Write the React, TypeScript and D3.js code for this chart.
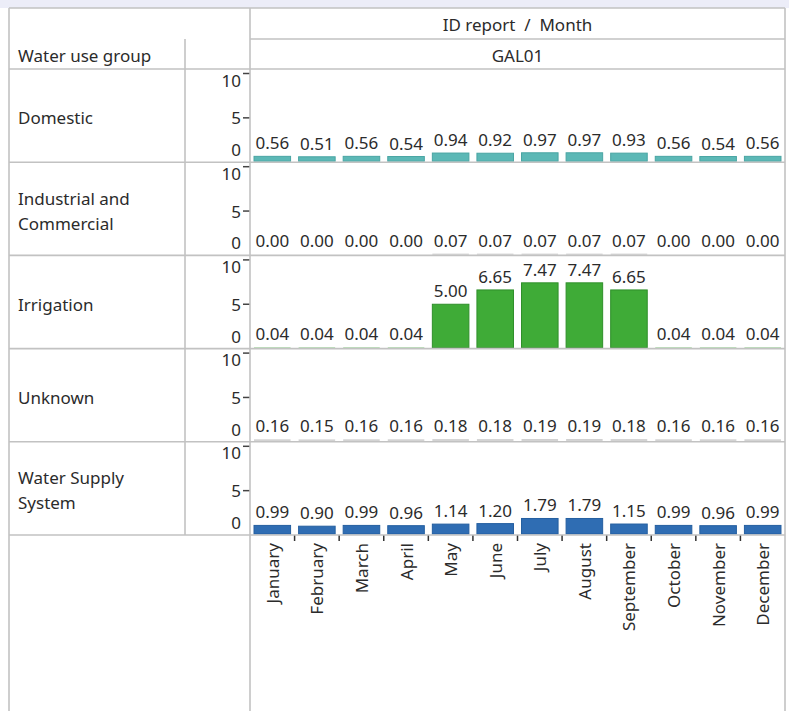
import React from "react";
import * as d3 from "d3";

const months = ["January","February","March","April","May","June","July","August","September","October","November","December"];
const groups = ["Domestic","Industrial and Commercial","Irrigation","Unknown","Water Supply System"];
const groupLabelLines = [["Domestic"],["Industrial and","Commercial"],["Irrigation"],["Unknown"],["Water Supply","System"]];
const domestic = [0.56,0.51,0.56,0.54,0.94,0.92,0.97,0.97,0.93,0.56,0.54,0.56];
const industrial = [0.00,0.00,0.00,0.00,0.07,0.07,0.07,0.07,0.07,0.00,0.00,0.00];
const irrigation = [0.04,0.04,0.04,0.04,5.00,6.65,7.47,7.47,6.65,0.04,0.04,0.04];
const unknown = [0.16,0.15,0.16,0.16,0.18,0.18,0.19,0.19,0.18,0.16,0.16,0.16];
const waterSupply = [0.99,0.90,0.99,0.96,1.14,1.20,1.79,1.79,1.15,0.99,0.96,0.99];
const seriesValues = [domestic, industrial, irrigation, unknown, waterSupply];
const yTicks = [0, 5, 10];
const headerTop = "ID report\u00a0\u00a0/\u00a0\u00a0Month";
const headerSub = "GAL01";
const columnTitle = "Water use group";

const fills = ["#5cb8b6", "#a9a9a9", "#3fab37", "#c9c9c9", "#2f6db3"];
const strokes = ["#4aa5a3", "#999", "#2f8f2a", "#bbb", "#255fa0"];

const W = 789, H = 711;
const L = 9, R = 785, T = 8;
const colA = 185, plotL = 250;
const rowsTop = 69, rowsBottom = 535;
const lineC = "#c2c2c2";
const textC = "#2b2b2b";
const font = "'Noto Sans', 'Open Sans', sans-serif";
const FS = 17;

export default function App() {
  const x = d3.scaleBand<string>().domain(months).range([plotL, R]).paddingInner(0.18).paddingOuter(0.09);
  const rowScale = d3.scaleBand<string>().domain(groups).range([rowsTop, rowsBottom]);
  const step = x.step();

  return (
    <svg width={W} height={H} style={{ position: "absolute", left: 0, top: 0, background: "#fff" }} fontFamily={font}>
      <rect x={0} y={0} width={W} height={H} fill="#fff" />
      <rect x={0} y={0} width={W} height={T} fill="#ecedf8" />
      {/* header */}
      <text x={(plotL + R) / 2} y={24} textAnchor="middle" dominantBaseline="central" fontSize={FS} fill={textC}>{headerTop}</text>
      <text x={(plotL + R) / 2} y={55} textAnchor="middle" dominantBaseline="central" fontSize={FS} fill={textC}>{headerSub}</text>
      <text x={18} y={55} dominantBaseline="central" fontSize={FS} fill={textC}>{columnTitle}</text>

      {groups.map((g, gi) => {
        const top = rowScale(g)!;
        const bottom = top + rowScale.bandwidth();
        const y = d3.scaleLinear().domain([0, 10]).range([bottom - 1, top + 5.5]);
        const lines = groupLabelLines[gi];
        const cy = (top + bottom) / 2 + 2;
        const vals = seriesValues[gi];
        return (
          <g key={g}>
            {lines.map((ln, li) => (
              <text key={li} x={18} y={cy + (li - (lines.length - 1) / 2) * 25} dominantBaseline="central" fontSize={FS} fill={textC}>{ln}</text>
            ))}
            {yTicks.map((t) => {
              const ty = y(t);
              const off = t === 10 ? 5.5 : t === 0 ? -11.5 : 0;
              return (
                <g key={t}>
                  {t !== 0 && (
                    <line x1={plotL - 7} x2={plotL} y1={t === 10 ? ty - 1 : ty} y2={t === 10 ? ty - 1 : ty} stroke="#444" strokeWidth={1.5} />
                  )}
                  <text x={plotL - 9} y={ty + off} textAnchor="end" dominantBaseline="central" fontSize={FS} fill={textC}>{t}</text>
                </g>
              );
            })}
            {months.map((m, i) => {
              const v = vals[i];
              const bx = x(m)!;
              const by = y(v);
              const h = y(0) - by;
              return (
                <g key={m}>
                  {h > 0 && (
                    <rect x={bx} y={by} width={x.bandwidth()} height={h} fill={fills[gi]} stroke={h > 2 ? strokes[gi] : "none"} strokeWidth={1} />
                  )}
                  <text x={bx + x.bandwidth() / 2} y={by - 7} textAnchor="middle" fontSize={FS} fill={textC}>{v.toFixed(2)}</text>
                </g>
              );
            })}
          </g>
        );
      })}

      {/* x axis tick marks and month labels */}
      {months.slice(1).map((m) => {
        const bx = x(m)! - (step * 0.18) / 2;
        return <line key={m} x1={bx} x2={bx} y1={rowsBottom} y2={rowsBottom + 6} stroke="#333" strokeWidth={1.5} />;
      })}
      {months.map((m) => {
        const cx = x(m)! + x.bandwidth() / 2;
        const ty = rowsBottom + 8;
        return (
          <text key={m} transform={`translate(${cx},${ty}) rotate(-90)`} textAnchor="end" dominantBaseline="central" fontSize={FS} fill={textC}>{m}</text>
        );
      })}

      {/* table lines */}
      <line x1={L} x2={L} y1={T} y2={H} stroke={lineC} strokeWidth={1.6} />
      <line x1={R} x2={R} y1={T} y2={H} stroke={lineC} strokeWidth={1.6} />
      <line x1={L} x2={R} y1={T} y2={T} stroke={lineC} strokeWidth={1.6} />
      <line x1={plotL} x2={R} y1={39} y2={39} stroke={lineC} strokeWidth={1.6} />
      <line x1={plotL} x2={plotL} y1={T} y2={H} stroke={lineC} strokeWidth={1.6} />
      <line x1={colA} x2={colA} y1={39} y2={rowsBottom} stroke={lineC} strokeWidth={1.6} />
      {groups.map((g) => (
        <line key={g} x1={L} x2={R} y1={rowScale(g)!} y2={rowScale(g)!} stroke={lineC} strokeWidth={1.6} />
      ))}
      <line x1={L} x2={R} y1={rowsBottom} y2={rowsBottom} stroke={lineC} strokeWidth={1.6} />
    </svg>
  );
}
